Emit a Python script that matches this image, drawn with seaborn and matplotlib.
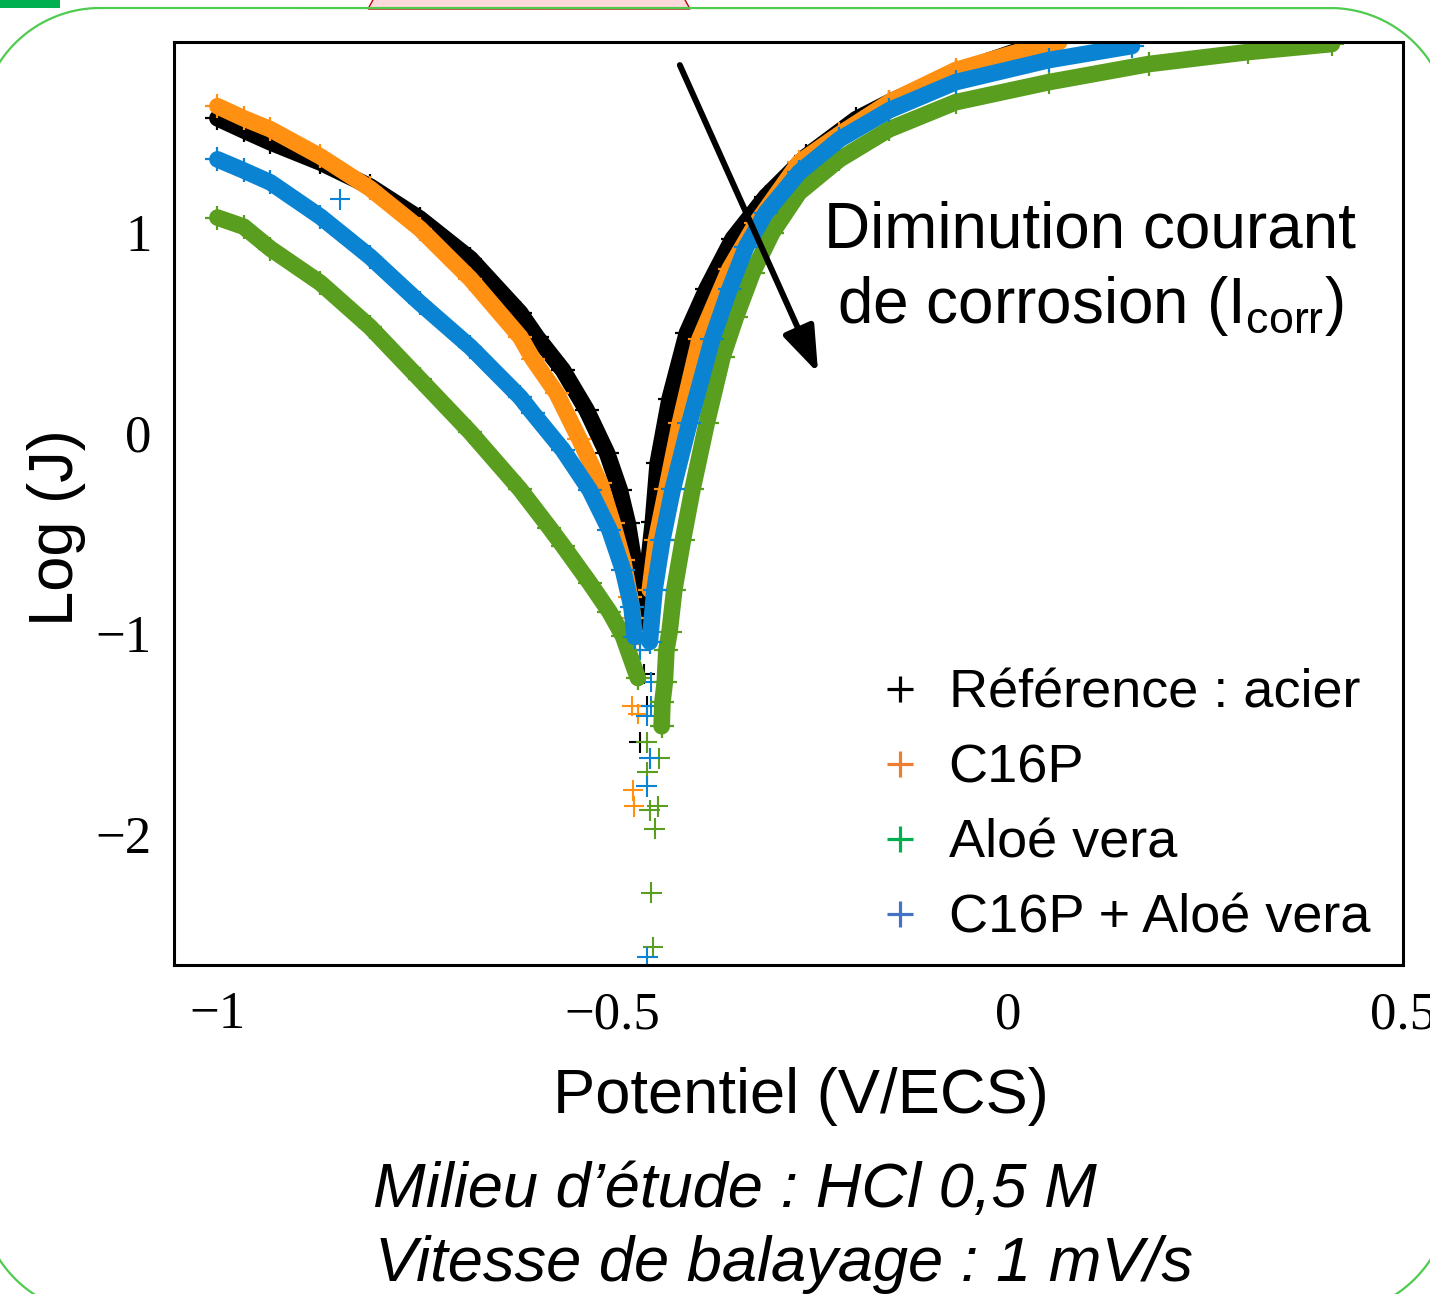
import numpy as np
import pandas as pd
import matplotlib
matplotlib.use("Agg")
import matplotlib.pyplot as plt
from matplotlib.lines import Line2D
from matplotlib.patches import Polygon, Rectangle
from matplotlib.ticker import FixedLocator, FuncFormatter
import seaborn as sns

# ---- données ---------------------------------------------------------------
SERIES = ["Référence : acier", "C16P", "Aloé vera", "C16P + Aloé vera"]
CURVE_COLORS = ["#000000", "#FF9012", "#5A9E20", "#0A84D2"]
LEGEND_COLORS = ["#000000", "#ED7D31", "#00B050", "#4472C4"]

# Référence : acier
REF_CATH_E = [-1.000, -0.967, -0.933, -0.870, -0.807, -0.744, -0.680, -0.617, -0.596, -0.563,
              -0.533, -0.507, -0.491, -0.481, -0.474, -0.469, -0.464]
REF_CATH_J = [1.57, 1.51, 1.45, 1.35, 1.23, 1.07, 0.87, 0.60, 0.48, 0.315,
              0.116, -0.10, -0.283, -0.447, -0.617, -0.78, -0.94]
REF_PTS_E = [-0.466, -0.460, -0.457, -0.466]
REF_PTS_J = [-1.08, -1.20, -1.36, -1.54]
REF_ANOD_E = [-0.457, -0.456, -0.449, -0.443, -0.428, -0.406, -0.381, -0.348, -0.306, -0.255,
              -0.192, -0.150, -0.066, 0.030]
REF_ANOD_J = [-0.86, -0.69, -0.44, -0.15, 0.17, 0.50, 0.72, 0.97, 1.18, 1.38,
              1.565, 1.65, 1.80, 1.93]

# C16P
C16_CATH_E = [-1.000, -0.967, -0.933, -0.870, -0.807, -0.744, -0.680, -0.617, -0.601, -0.571,
              -0.542, -0.516, -0.500, -0.487, -0.478, -0.474]
C16_CATH_J = [1.63, 1.57, 1.515, 1.38, 1.22, 1.02, 0.77, 0.48, 0.37, 0.20,
              -0.03, -0.248, -0.447, -0.63, -0.816, -0.92]
C16_PTS_E = [-0.472, -0.475, -0.468, -0.474, -0.473]
C16_PTS_J = [-1.05, -1.36, -1.40, -1.78, -1.86]
C16_ANOD_E = [-0.453, -0.445, -0.432, -0.415, -0.390, -0.352, -0.318, -0.264, -0.213, -0.150,
              -0.066, 0.030, 0.065]
C16_ANOD_J = [-0.78, -0.53, -0.28, 0.05, 0.47, 0.82, 1.05, 1.35, 1.49, 1.65,
              1.81, 1.92, 1.95]

# Aloé vera
ALO_CATH_E = [-1.000, -0.967, -0.933, -0.870, -0.807, -0.744, -0.680, -0.617, -0.580, -0.563,
              -0.529, -0.504, -0.487, -0.468]
ALO_CATH_J = [1.075, 1.03, 0.92, 0.75, 0.53, 0.27, 0.005, -0.28, -0.47, -0.56,
              -0.746, -0.89, -1.01, -1.22]
ALO_PTS_E = [-0.457, -0.456, -0.453, -0.443, -0.441, -0.447, -0.451, -0.449]
ALO_PTS_J = [-1.54, -1.69, -1.88, -1.86, -1.62, -1.97, -2.29, -2.56]
ALO_ANOD_E = [-0.438, -0.437, -0.434, -0.432, -0.428, -0.422, -0.411, -0.399, -0.381, -0.361,
              -0.344, -0.323, -0.298, -0.264, -0.213, -0.150, -0.066, 0.052, 0.178, 0.304, 0.410]
ALO_ANOD_J = [-1.46, -1.34, -1.24, -1.08, -0.99, -0.78, -0.53, -0.28, 0.05, 0.38,
              0.58, 0.80, 1.00, 1.20, 1.365, 1.515, 1.65, 1.75, 1.84, 1.90, 1.94]

# C16P + Aloé vera
MIX_CATH_E = [-1.000, -0.967, -0.933, -0.870, -0.807, -0.744, -0.680, -0.617, -0.601, -0.563,
              -0.529, -0.504, -0.487, -0.476, -0.472]
MIX_CATH_J = [1.365, 1.31, 1.25, 1.08, 0.88, 0.65, 0.43, 0.18, 0.10, -0.083,
              -0.283, -0.482, -0.68, -0.866, -1.015]
MIX_PTS_E = [-0.845, -0.466, -0.451, -0.451, -0.457, -0.453, -0.457, -0.456]
MIX_PTS_J = [1.166, -1.08, -1.24, -1.36, -1.41, -1.62, -1.76, -2.61]
MIX_ANOD_E = [-0.453, -0.447, -0.437, -0.424, -0.403, -0.374, -0.352, -0.331, -0.306, -0.264,
              -0.213, -0.150, -0.066, 0.052, 0.157]
MIX_ANOD_J = [-1.04, -0.78, -0.53, -0.28, 0.05, 0.47, 0.72, 0.93, 1.10, 1.30,
              1.465, 1.61, 1.75, 1.86, 1.93]

X_TICKS = [-1, -0.5, 0, 0.5]
Y_TICKS = [-2, -1, 0, 1]


def frame(name, part, e, j):
    return pd.DataFrame({"E": e, "logJ": j, "serie": name, "part": part})


branches = pd.concat([
    frame(SERIES[0], "cath", REF_CATH_E, REF_CATH_J), frame(SERIES[0], "anod", REF_ANOD_E, REF_ANOD_J),
    frame(SERIES[1], "cath", C16_CATH_E, C16_CATH_J), frame(SERIES[1], "anod", C16_ANOD_E, C16_ANOD_J),
    frame(SERIES[2], "cath", ALO_CATH_E, ALO_CATH_J), frame(SERIES[2], "anod", ALO_ANOD_E, ALO_ANOD_J),
    frame(SERIES[3], "cath", MIX_CATH_E, MIX_CATH_J), frame(SERIES[3], "anod", MIX_ANOD_E, MIX_ANOD_J),
], ignore_index=True)
points = pd.concat([
    frame(SERIES[0], "pts", REF_PTS_E, REF_PTS_J), frame(SERIES[1], "pts", C16_PTS_E, C16_PTS_J),
    frame(SERIES[2], "pts", ALO_PTS_E, ALO_PTS_J), frame(SERIES[3], "pts", MIX_PTS_E, MIX_PTS_J),
], ignore_index=True)

# ---- style ------------------------------------------------------------------
sns.set_style("white")
plt.rcParams.update({
    "font.family": ["Liberation Sans", "DejaVu Sans"],
    "text.color": "black", "axes.labelcolor": "black",
    "xtick.color": "black", "ytick.color": "black",
    "axes.unicode_minus": True,
})
SERIF = ["Liberation Serif", "DejaVu Serif"]

fig = plt.figure(figsize=(14.3, 12.94), dpi=100)

# cadre de la diapositive (repère en pixels, y vers le bas)
deco = fig.add_axes([0, 0, 1, 1], zorder=-1)
deco.set_xlim(0, 1430)
deco.set_ylim(1294, 0)
deco.axis("off")
deco.add_patch(Rectangle((0, 0), 60, 8, facecolor="#00B050", edgecolor="none"))
deco.add_patch(Polygon([(368, 9), (374, -2), (684, -2), (690, 9)], closed=True,
                       facecolor="#FFD9D9", edgecolor="#C00000", lw=1))
r = 120
corners = [((100, 128), 180, 270), ((1330, 128), 270, 360),
           ((1330, 1194), 0, 90), ((100, 1194), 90, 180)]
fx, fy = [], []
for (cx, cy), a0, a1 in corners:
    ang = np.radians(np.linspace(a0, a1, 40))
    fx.extend(cx + r * np.cos(ang))
    fy.extend(cy + r * np.sin(ang))
fx.append(fx[0])
fy.append(fy[0])
deco.plot(fx, fy, color="#4FCB4F", lw=1.6)

ax = fig.add_axes([174 / 1430, 1 - 965 / 1294, 1229 / 1430, 923 / 1294])

for name, col in zip(SERIES, CURVE_COLORS):
    sns.lineplot(data=branches[branches.serie == name], x="E", y="logJ", units="part",
                 estimator=None, sort=False, color=col, lw=12, marker="+", ms=17,
                 mec=col, mew=1.6, legend=False, ax=ax)
sns.scatterplot(data=points, x="E", y="logJ", hue="serie", hue_order=SERIES,
                palette=dict(zip(SERIES, CURVE_COLORS)), marker="+", s=220,
                linewidth=1.5, legend=False, ax=ax)

ax.set_xlim(-1.055, 0.5)
ax.set_ylim(-2.65, 1.95)
fmt = FuncFormatter(lambda v, p: f"{v:g}".replace("-", "\u2212"))
ax.xaxis.set_major_locator(FixedLocator(X_TICKS))
ax.yaxis.set_major_locator(FixedLocator(Y_TICKS))
ax.xaxis.set_minor_locator(FixedLocator([-0.75, -0.25, 0.25]))
ax.yaxis.set_minor_locator(FixedLocator([-2.5, -1.5, -0.5, 0.5, 1.5]))
ax.xaxis.set_major_formatter(fmt)
ax.yaxis.set_major_formatter(fmt)
ax.tick_params(which="both", direction="in", top=False, right=False, width=2.2,
               color="black", labelcolor="black")
ax.tick_params(which="major", length=16)
ax.tick_params(which="minor", length=9)
ax.tick_params(axis="y", which="major", pad=16)
ax.tick_params(axis="x", which="major", pad=19)
for lab in ax.get_xticklabels() + ax.get_yticklabels():
    lab.set_family(SERIF)
    lab.set_fontsize(38)
for sp in ax.spines.values():
    sp.set_linewidth(2.2)
    sp.set_color("black")

ax.set_xlabel("Potentiel (V/ECS)", fontsize=45.5, va="center")
ax.xaxis.set_label_coords(0.510, -0.142)
ax.set_ylabel("Log (J)", fontsize=45.5, va="center")
ax.yaxis.set_label_coords(-0.096, 0.4735)

# flèche + texte
ax.annotate("", xy=(-0.240, 0.300), xytext=(-0.415, 1.835),
            arrowprops=dict(arrowstyle="-|>,head_length=0.7,head_width=0.25",
                            mutation_scale=40, lw=4.3, color="black",
                            shrinkA=0, shrinkB=0))
fig.text(1090 / 1430, 1 - 247 / 1294, "Diminution courant", fontsize=46,
         ha="center", va="baseline")
fig.text(1090 / 1430, 1 - 323 / 1294, "de corrosion (I$_\\mathregular{corr}$)", fontsize=46,
         ha="center", va="baseline")

# légende
handles = [Line2D([], [], ls="none", marker="+", ms=19, mew=2.3, color=c) for c in LEGEND_COLORS]
ax.legend(handles, SERIES, loc="upper left", bbox_to_anchor=(881 / 1430, 1 - 669 / 1294),
          bbox_transform=fig.transFigure, frameon=False, fontsize=39, borderpad=0,
          borderaxespad=0, handlelength=0.7, handletextpad=0.55, labelspacing=0.46)

# conditions
fig.text(735 / 1430, 1 - 1207 / 1294, "Milieu d’étude : HCl 0,5 M", fontsize=45.5,
         style="italic", ha="center", va="baseline")
fig.text(784 / 1430, 1 - 1281 / 1294, "Vitesse de balayage : 1 mV/s", fontsize=45.5,
         style="italic", ha="center", va="baseline")

fig.savefig("out.png", dpi=100)
